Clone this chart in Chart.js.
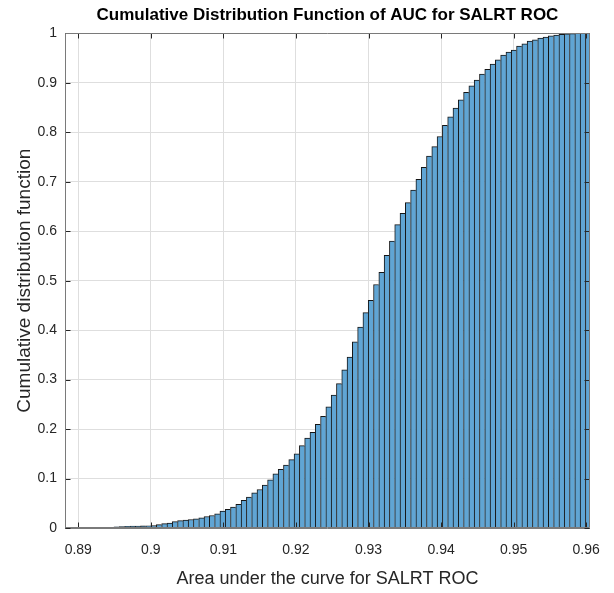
<!DOCTYPE html>
<html><head><meta charset="utf-8">
<script src="https://cdn.jsdelivr.net/npm/chart.js@4.4.1/dist/chart.umd.min.js"></script>
<style>html,body{margin:0;padding:0;background:#fff;} #wrap{width:614px;height:593px;position:relative}</style>
</head><body><div id="wrap"><canvas id="c"></canvas></div>
<script>
// Histogram bin layout (100 equal bins)
const binStart = 0.88762;
const binWidth = 0.00073;
// Cumulative distribution value of each bin
const cdfValues = [
  0.0001, 0.0002, 0.0002, 0.0003, 0.0004, 0.0005, 0.0006, 0.0008, 0.0010, 0.0016,
  0.0023, 0.0029, 0.0034, 0.0037, 0.0040, 0.0042, 0.0045, 0.0050, 0.0068, 0.0088,
  0.0102, 0.0128, 0.0148, 0.0162, 0.0172, 0.0187, 0.0207, 0.0232, 0.0252, 0.0288,
  0.0340, 0.0380, 0.0421, 0.0477, 0.0557, 0.0624, 0.0712, 0.0779, 0.0870, 0.0976,
  0.1097, 0.1184, 0.1270, 0.1381, 0.1502, 0.1664, 0.1820, 0.1934, 0.2095, 0.2258,
  0.2450, 0.2688, 0.2920, 0.3200, 0.3458, 0.3762, 0.4060, 0.4355, 0.4605, 0.4923,
  0.5170, 0.5515, 0.5800, 0.6135, 0.6360, 0.6578, 0.6832, 0.7050, 0.7290, 0.7520,
  0.7710, 0.7915, 0.8140, 0.8315, 0.8490, 0.8655, 0.8808, 0.8940, 0.9055, 0.9175,
  0.9275, 0.9380, 0.9465, 0.9560, 0.9620, 0.9665, 0.9745, 0.9790, 0.9843, 0.9870,
  0.9905, 0.9928, 0.9950, 0.9968, 0.9980, 0.9990, 0.9996, 1.0000, 1.0000, 1.0000
];
const xLimits = [0.88817, 0.96052];
const xTickValues = [0.89, 0.90, 0.91, 0.92, 0.93, 0.94, 0.95, 0.96];
const xTickLabels = ['0.89', '0.9', '0.91', '0.92', '0.93', '0.94', '0.95', '0.96'];
const yTickValues = [0, 0.1, 0.2, 0.3, 0.4, 0.5, 0.6, 0.7, 0.8, 0.9, 1];
const yTickLabels = ['0', '0.1', '0.2', '0.3', '0.4', '0.5', '0.6', '0.7', '0.8', '0.9', '1'];
const titleText = 'Cumulative Distribution Function of AUC for SALRT ROC';
const xTitle = 'Area under the curve for SALRT ROC';
const yTitle = 'Cumulative distribution function';

const points = cdfValues.map((v, i) => ({ x: binStart + binWidth * (i + 0.5), y: v }));

const FONT = "'Liberation Sans', Arial, Helvetica, sans-serif";

const frame = {
  id: 'frame',
  afterDatasetsDraw(chart) {
    const { ctx, chartArea: a, scales: { x, y } } = chart;
    const L = Math.round(a.left) + 0.5, R = Math.round(a.right) - 0.5;
    const T = Math.round(a.top) + 0.5, B = Math.round(a.bottom) - 0.5;
    ctx.save();
    ctx.lineWidth = 1;
    ctx.strokeStyle = '#262626';
    ctx.beginPath();
    x.ticks.forEach(t => {
      const px = Math.round(x.getPixelForValue(t.value)) + 0.5;
      ctx.moveTo(px, B); ctx.lineTo(px, B - 5);
      ctx.moveTo(px, T); ctx.lineTo(px, T + 5);
    });
    y.ticks.forEach(t => {
      const py = Math.round(y.getPixelForValue(t.value)) + 0.5;
      ctx.moveTo(L, py); ctx.lineTo(L + 5, py);
      ctx.moveTo(R, py); ctx.lineTo(R - 5, py);
    });
    ctx.stroke();
    ctx.strokeStyle = '#7a7a7a';
    ctx.beginPath();
    ctx.moveTo(L, T); ctx.lineTo(R, T); ctx.lineTo(R, B); ctx.lineTo(L, B); ctx.closePath();
    ctx.stroke();
    ctx.restore();
  }
};

new Chart(document.getElementById('c'), {
  type: 'bar',
  data: {
    datasets: [{
      data: points,
      backgroundColor: 'rgb(96,165,212)',
      borderColor: '#151515',
      borderWidth: { top: 1, left: 1, right: 0, bottom: 0 },
      borderSkipped: false,
      barPercentage: 1,
      categoryPercentage: 1
    }]
  },
  options: {
    responsive: true,
    maintainAspectRatio: false,
    animation: false,
    devicePixelRatio: 1,
    layout: { padding: { left: 0, right: 23, top: 0, bottom: 0 } },
    plugins: {
      legend: { display: false },
      tooltip: { enabled: false },
      title: {
        display: true, text: titleText, color: '#000', fullSize: false,
        font: { family: FONT, size: 17, weight: 'bold' },
        padding: { top: 5, bottom: 8 }
      }
    },
    scales: {
      x: {
        type: 'linear', min: xLimits[0], max: xLimits[1], offset: false,
        grid: { offset: false, color: '#dedede', drawTicks: false },
        border: { display: true, color: '#7a7a7a' },
        afterBuildTicks: s => { s.ticks = xTickValues.map(v => ({ value: v })); },
        ticks: {
          callback: (v, i) => xTickLabels[i], autoSkip: false, maxRotation: 0,
          color: '#262626', padding: 14, font: { family: FONT, size: 14 }
        },
        title: {
          display: true, text: xTitle, color: '#262626',
          font: { family: FONT, size: 18 }, padding: { top: 2, bottom: 3 }
        },
        afterFit: s => { s.height = 65; }
      },
      y: {
        min: 0, max: 1,
        grid: { color: '#dedede', drawTicks: false },
        border: { display: true, color: '#7a7a7a' },
        afterBuildTicks: s => { s.ticks = yTickValues.map(v => ({ value: v })); },
        ticks: {
          callback: (v, i) => yTickLabels[i], autoSkip: false,
          color: '#262626', padding: 8, font: { family: FONT, size: 14 }
        },
        title: {
          display: true, text: yTitle, color: '#262626',
          font: { family: FONT, size: 19 }, padding: { top: 13, bottom: 0 }
        },
        afterFit: s => { s.width = 65; }
      }
    }
  },
  plugins: [frame]
});
</script>
</body></html>
